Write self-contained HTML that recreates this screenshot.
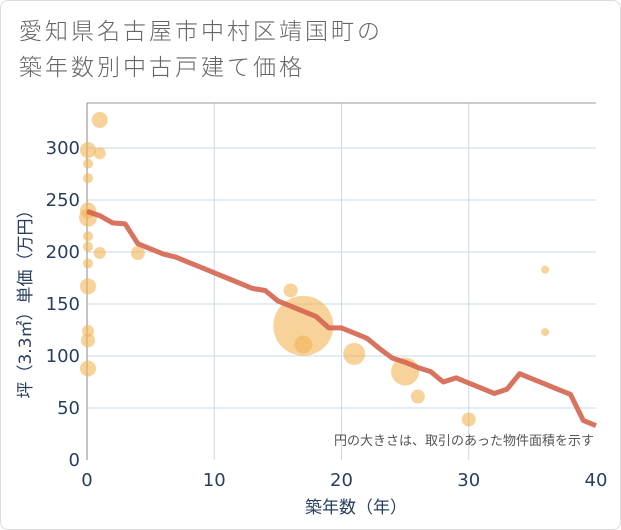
<!DOCTYPE html>
<html><head><meta charset="utf-8">
<style>
body{margin:0;background:#fff;}
#card{position:relative;width:619px;height:528px;border:1px solid #ddd;border-radius:8px;background:#fff;font-family:"Liberation Sans","Noto Sans CJK JP",sans-serif;overflow:hidden;}
#title{position:absolute;left:18px;top:13px;font-size:23px;line-height:36px;letter-spacing:3px;color:#666;font-weight:300;font-family:"DejaVu Sans","Noto Sans CJK JP",sans-serif;}
svg text{font-family:"DejaVu Sans","Noto Sans CJK JP",sans-serif;}
</style></head><body>
<div id="card">
<div id="title">愛知県名古屋市中村区靖国町の<br>築年数別中古戸建て価格</div>
<svg id="chart" width="621" height="530" style="position:absolute;left:-1px;top:-1px"></svg>
</div>
<script>
const lineYears=[0,1,2,3,4,5,6,7,8,9,10,11,12,13,14,15,16,17,18,19,20,21,22,23,24,25,26,27,28,29,30,31,32,33,34,35,36,37,38,39,40];
const lineValues=[239,235,228,227,208,203,198,195,190,185,180,175,170,165,163,153,148,143,138,127,127,122,117,107,98,94,89,85,75,79,74,69,64,68,83,78,73,68,63,38,33];
const bubbleYears=[1,0,1,0,0,0,0,0,0,1,4,0,0,0,0,0,16,17,17,21,25,26,30,36,36];
const bubbleValues=[327,298,295,285,271,240,233,215,205,199,199,189,167,124,115,88,163,129,111,102,85,61,39,183,123];
const bubbleRadius=[8,8,6,5,5,8,9,5,5,6,7,5,8,6,7,8,7,30,9,11,14,7,7,4,4];
const xTicks=[0,10,20,30,40];
const yTicks=[0,50,100,150,200,250,300];
const NS="http://www.w3.org/2000/svg";
const svg=document.getElementById('chart');
const X0=87,X1=596,Y0=460,YT=103;
const xs=v=>X0+(X1-X0)*v/40;
const ys=v=>Y0-v*1.04;
function mk(t,a){const e=document.createElementNS(NS,t);for(const k in a)e.setAttribute(k,a[k]);svg.appendChild(e);return e;}
yTicks.forEach(t=>{
 if(t>0){const g=mk('line',{x1:X0,x2:X1,y1:ys(t),y2:ys(t),stroke:'#c9d9ea','stroke-width':1});
 
 }
 const l=mk('text',{x:X0-7,y:ys(t)+6,'text-anchor':'end','font-size':18,fill:'#2a3f5f'});l.textContent=t;
 
 
});
xTicks.forEach(t=>{
 if(t>0&&t<40){const g=mk('line',{x1:xs(t),x2:xs(t),y1:YT,y2:Y0,stroke:'#c9d9ea','stroke-width':1});
 
 }
 const l=mk('text',{x:xs(t),y:Y0+26,'text-anchor':'middle','font-size':18,fill:'#2a3f5f'});l.textContent=t;
 
 
});
const ax=mk('line',{x1:X0,x2:X0,y1:YT,y2:Y0,stroke:'#888','stroke-width':1});


const tp=mk('line',{x1:X0,x2:X1,y1:YT,y2:YT,stroke:'#999','stroke-width':1});


bubbleYears.forEach((yr,i)=>{
 const c=mk('circle',{cx:xs(yr)+(yr===0?1:0),cy:ys(bubbleValues[i]),r:bubbleRadius[i],fill:'rgba(242,180,85,0.6)'});
 
 
});
const p=mk('polyline',{points:lineYears.map((y,i)=>xs(y)+','+ys(lineValues[i])).join(' '),fill:'none',stroke:'#d4644f','stroke-width':5,'stroke-linejoin':'round','stroke-opacity':0.9});


const note=mk('text',{x:594,y:445,'text-anchor':'end','font-size':13,fill:'#555'});note.textContent='円の大きさは、取引のあった物件面積を示す';


const xt=mk('text',{x:356,y:513,'text-anchor':'middle','font-size':17,fill:'#2a3f5f'});xt.textContent='築年数（年）';


const yt=mk('text',{x:0,y:0,'text-anchor':'middle','font-size':17,fill:'#2a3f5f',transform:'translate(31,300) rotate(-90)'});yt.textContent='坪（3.3㎡）単価（万円）';


</script>
</body></html>
